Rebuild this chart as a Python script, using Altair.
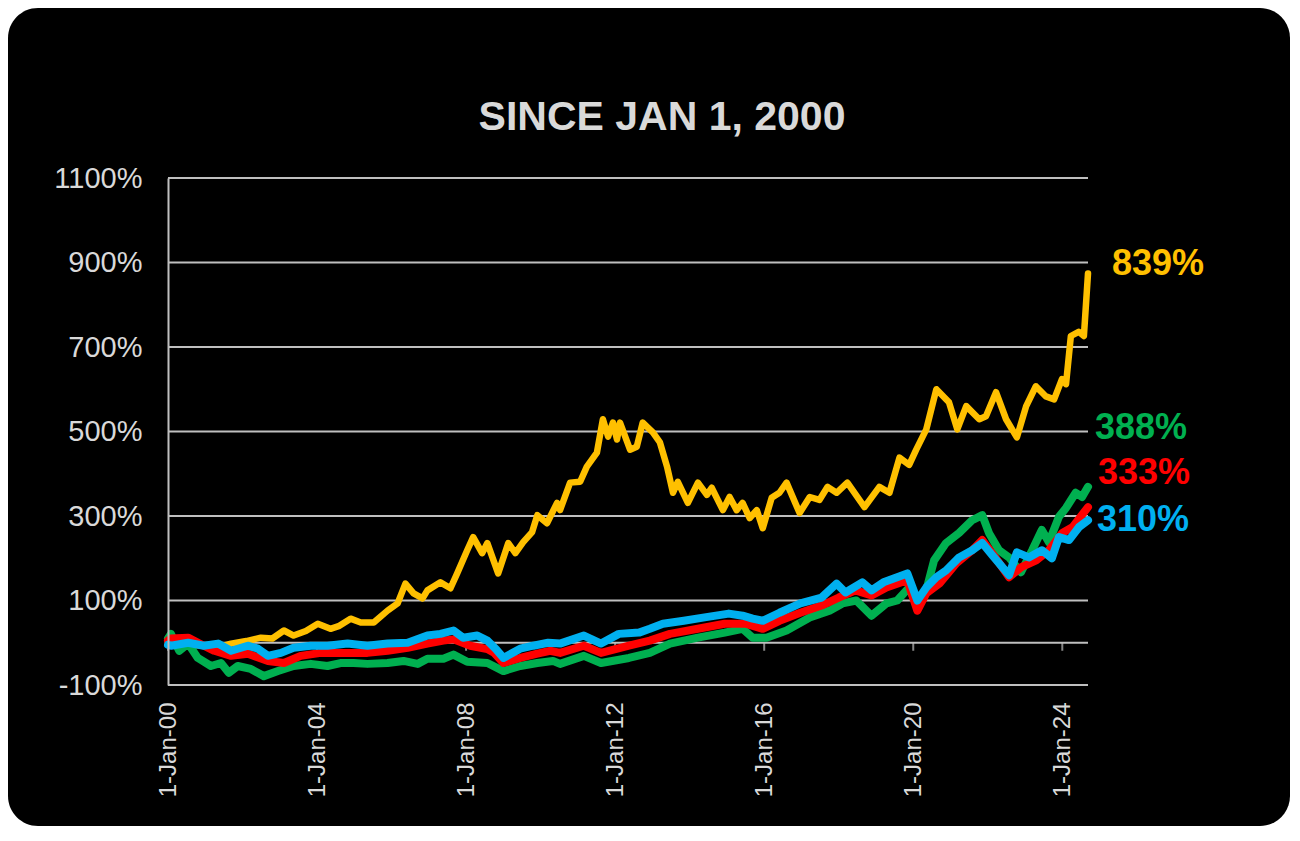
import altair as alt
import pandas as pd

# ---- data (decimal year, % change since Jan 1 2000) ----
gold = [(2000.0, 0), (2000.1, 6), (2000.4, -3), (2000.8, -6), (2001.2, -8), (2001.5, -7), (2001.69, -2),
        (2002.1, 4), (2002.49, 12), (2002.8, 10), (2003.11, 29), (2003.37, 17), (2003.7, 28), (2004.02, 45),
        (2004.36, 33), (2004.6, 40), (2004.9, 57), (2005.17, 48), (2005.52, 48), (2005.89, 76), (2006.16, 93),
        (2006.37, 140), (2006.59, 117), (2006.83, 105), (2006.96, 124), (2007.31, 143), (2007.58, 129),
        (2007.76, 164), (2008.03, 219), (2008.19, 250), (2008.43, 212), (2008.57, 236), (2008.86, 164),
        (2009.13, 236), (2009.32, 212), (2009.53, 238), (2009.77, 262), (2009.91, 302), (2010.17, 283),
        (2010.44, 331), (2010.52, 314), (2010.79, 379), (2011.06, 381), (2011.24, 417), (2011.51, 450),
        (2011.67, 529), (2011.81, 488), (2011.94, 521), (2012.05, 481), (2012.13, 521), (2012.4, 457),
        (2012.58, 464), (2012.74, 521), (2013.01, 498), (2013.2, 474), (2013.39, 417), (2013.55, 355),
        (2013.68, 381), (2013.95, 331), (2014.22, 379), (2014.46, 350), (2014.59, 367), (2014.89, 314),
        (2015.07, 345), (2015.26, 314), (2015.42, 331), (2015.61, 295), (2015.8, 314), (2015.96, 271),
        (2016.2, 343), (2016.41, 355), (2016.6, 379), (2016.95, 307), (2017.22, 345), (2017.48, 338),
        (2017.7, 369), (2017.94, 355), (2018.23, 379), (2018.69, 321), (2019.09, 369), (2019.36, 355),
        (2019.63, 438), (2019.89, 421), (2020.08, 457), (2020.35, 505), (2020.62, 600), (2020.96, 569),
        (2021.18, 505), (2021.42, 560), (2021.77, 529), (2021.95, 536), (2022.22, 593), (2022.49, 529),
        (2022.78, 486), (2023.03, 560), (2023.29, 607), (2023.56, 583), (2023.78, 576), (2023.99, 624),
        (2024.1, 612), (2024.23, 726), (2024.44, 736), (2024.58, 726), (2024.69, 874)]

green = [(2000.0, 10), (2000.08, 21), (2000.3, -19), (2000.54, -2), (2000.8, -36), (2001.15, -55),
         (2001.42, -48), (2001.63, -71), (2001.87, -55), (2002.22, -62), (2002.57, -79), (2002.95, -67),
         (2003.37, -55), (2003.83, -50), (2004.28, -55), (2004.63, -48), (2004.98, -48), (2005.35, -50),
         (2005.89, -48), (2006.32, -43), (2006.7, -50), (2006.96, -38), (2007.39, -38), (2007.66, -28),
         (2008.03, -45), (2008.57, -48), (2009.0, -67), (2009.45, -55), (2009.91, -48), (2010.33, -43),
         (2010.52, -50), (2011.16, -31), (2011.62, -48), (2012.37, -36), (2012.93, -24), (2013.47, -2),
         (2014.22, 12), (2014.94, 24), (2015.42, 33), (2015.69, 12), (2016.06, 12), (2016.6, 29),
         (2017.22, 60), (2017.75, 76), (2018.1, 93), (2018.47, 100), (2018.88, 64), (2019.28, 93),
         (2019.57, 100), (2019.89, 131), (2020.11, 85), (2020.35, 124), (2020.56, 195), (2020.88, 236),
         (2021.23, 260), (2021.58, 290), (2021.85, 302), (2022.03, 260), (2022.3, 219), (2022.57, 202),
         (2022.89, 167), (2023.19, 219), (2023.45, 267), (2023.64, 238), (2023.91, 298), (2024.1, 319),
         (2024.36, 355), (2024.53, 345), (2024.69, 369)]

red = [(2000.0, 5), (2000.08, 10), (2000.54, 12), (2000.96, -7), (2001.24, -19), (2001.69, -31),
       (2002.14, -26), (2002.68, -43), (2003.11, -48), (2003.56, -31), (2004.1, -24), (2004.82, -24),
       (2005.35, -24), (2005.89, -19), (2006.43, -12), (2006.96, -2), (2007.39, 5), (2007.66, 8),
       (2008.11, -7), (2008.57, -15), (2008.75, -24), (2009.0, -48), (2009.45, -36), (2009.91, -26),
       (2010.25, -19), (2010.52, -24), (2011.16, -7), (2011.62, -24), (2012.37, -7), (2012.93, 5),
       (2013.47, 21), (2014.22, 33), (2014.94, 45), (2015.5, 45), (2015.96, 33), (2016.41, 52),
       (2016.97, 71), (2017.54, 88), (2018.0, 107), (2018.45, 124), (2018.88, 112), (2019.28, 131),
       (2019.84, 148), (2020.11, 76), (2020.35, 117), (2020.7, 140), (2021.15, 188), (2021.58, 219),
       (2021.85, 243), (2022.2, 202), (2022.57, 155), (2022.9, 179), (2023.3, 195), (2023.64, 219),
       (2024.0, 260), (2024.28, 274), (2024.69, 321)]

blue = [(2000.0, -5), (2000.08, -7), (2000.54, 0), (2000.96, -7), (2001.34, -2), (2001.69, -19),
        (2002.14, -7), (2002.41, -14), (2002.68, -31), (2003.03, -24), (2003.37, -12), (2003.83, -7),
        (2004.28, -7), (2004.82, -2), (2005.35, -7), (2005.89, -2), (2006.43, 0), (2006.96, 17),
        (2007.31, 21), (2007.66, 29), (2007.92, 12), (2008.3, 17), (2008.57, 5), (2008.8, -15),
        (2009.0, -36), (2009.45, -14), (2009.8, -7), (2010.2, 0), (2010.52, -2), (2011.16, 17),
        (2011.62, -2), (2012.1, 21), (2012.64, 24), (2012.93, 33), (2013.28, 45), (2013.84, 52),
        (2014.4, 60), (2015.05, 69), (2015.42, 64), (2015.69, 57), (2015.96, 52), (2016.41, 71),
        (2016.97, 93), (2017.54, 107), (2017.94, 140), (2018.18, 119), (2018.63, 143), (2018.88, 124),
        (2019.2, 143), (2019.84, 164), (2020.11, 100), (2020.35, 131), (2020.62, 155), (2020.88, 171),
        (2021.23, 202), (2021.58, 219), (2021.85, 236), (2022.12, 207), (2022.57, 160), (2022.78, 214),
        (2023.1, 202), (2023.45, 219), (2023.72, 200), (2023.91, 250), (2024.18, 243), (2024.45, 274),
        (2024.69, 290)]

end_labels = ["839%", "388%", "333%", "310%"]
colors = ["#FFC000", "#00B050", "#FF0000", "#00B0F0"]
grid_values = [-100, 100, 300, 500, 700, 900, 1100]
tick_years = [2000, 2004, 2008, 2012, 2016, 2020, 2024]
title_text = "SINCE JAN 1, 2000"


def to_date(y):
    yi = int(y)
    return pd.Timestamp(yi, 1, 1) + pd.Timedelta(days=(y - yi) * 365.25)


def frame(series):
    return pd.DataFrame({"date": [to_date(t) for t, _ in series],
                         "value": [v for _, v in series]})


W, H = 920, 507
PAD_L, PAD_T = 160, 170
TOTAL_W, TOTAL_H = 1282, 818
GRID = "#bfbfbf"
TXT = "#d9d9d9"
FONT = "Liberation Sans, Arial"

xscale = alt.Scale(domain=[alt.DateTime(year=2000, month=1, date=1),
                           alt.DateTime(year=2024, month=9, date=9)], nice=False)
yscale = alt.Scale(domain=[-100, 1100], nice=False, zero=False)

xaxis = alt.Axis(values=[alt.DateTime(year=y, month=1, date=1) for y in tick_years],
                 format="%-d-%b-%y", labelAngle=270, labelColor=TXT,
                 labelFont=FONT, labelFontSize=24, labelPadding=17,
                 ticks=False, domain=False, grid=False, title=None, zindex=1,
                 labelOverlap=False, labelFlush=False)
yaxis = alt.Axis(values=grid_values, labelExpr="datum.value + '%'", labelColor=TXT,
                 labelFont=FONT, labelFontSize=29, labelPadding=26,
                 ticks=False, domain=True, domainColor=GRID, domainWidth=2,
                 grid=False, title=None, zindex=1, labelOverlap=False, labelFlush=False)

one = pd.DataFrame({"k": [0]})

bg = alt.Chart(one).mark_rect(color="black", cornerRadius=30).encode(
    x=alt.value(-PAD_L), x2=alt.value(TOTAL_W - PAD_L),
    y=alt.value(-PAD_T), y2=alt.value(TOTAL_H - PAD_T))

grid = alt.Chart(pd.DataFrame({"v": grid_values + [0]})).mark_rule(
    color=GRID, strokeWidth=2).encode(y=alt.Y("v:Q", scale=yscale, axis=yaxis))

ticks = alt.Chart(pd.DataFrame({"date": [pd.Timestamp(y, 1, 1) for y in tick_years],
                                "v": [0] * len(tick_years)})).mark_tick(
    orient="vertical", size=8, thickness=2, yOffset=4, color=GRID).encode(
    x=alt.X("date:T", scale=xscale, axis=xaxis),
    y=alt.Y("v:Q", scale=yscale, axis=yaxis))


def line(series, color, width):
    return alt.Chart(frame(series)).mark_line(
        color=color, strokeWidth=width, strokeJoin="round", strokeCap="round").encode(
        x=alt.X("date:T", scale=xscale, axis=xaxis),
        y=alt.Y("value:Q", scale=yscale, axis=yaxis))


lines = [line(gold, colors[0], 6.5), line(green, colors[1], 8),
         line(red, colors[2], 8), line(blue, colors[3], 8)]

label_pos = [(944, 86), (927, 250), (930, 295), (929, 342)]
labels = []
for txt, col, (px, py) in zip(end_labels, colors, label_pos):
    labels.append(alt.Chart(pd.DataFrame({"t": [txt]})).mark_text(
        font=FONT, fontSize=36, fontWeight="bold", color=col,
        align="left", baseline="middle").encode(
        text="t:N", x=alt.value(px), y=alt.value(py)))

title = alt.Chart(pd.DataFrame({"t": [title_text]})).mark_text(
    font=FONT, fontSize=41, fontWeight="bold", color=TXT,
    align="center", baseline="alphabetic").encode(
    text="t:N", x=alt.value(494), y=alt.value(-48))

chart = alt.layer(bg, grid, ticks, *lines, *labels, title).properties(
    width=W, height=H, background="white",
    padding={"left": PAD_L, "top": PAD_T, "right": TOTAL_W - PAD_L - W,
             "bottom": TOTAL_H - PAD_T - H},
    autosize=alt.AutoSizeParams(type="none"),
).configure_view(stroke=None)

chart.save("out.html", embed_options={"renderer": "svg", "actions": False})
